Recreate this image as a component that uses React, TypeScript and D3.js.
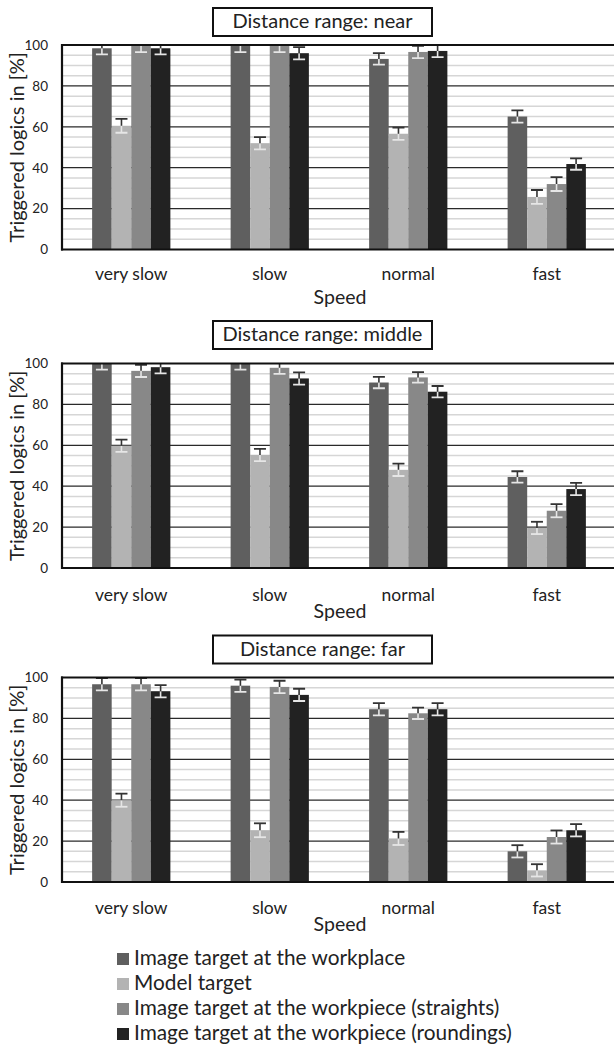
import React from "react";
import * as d3 from "d3";

// chart data
const speeds = ["very slow", "slow", "normal", "fast"];
const seriesNames = [
  "Image target at the workplace",
  "Model target",
  "Image target at the workpiece (straights)",
  "Image target at the workpiece (roundings)",
];
const seriesColors = ["#5f5f5f", "#b3b3b3", "#888888", "#222222"];
const rangeTitles = ["Distance range: near", "Distance range: middle", "Distance range: far"];
const yTicks = [0, 20, 40, 60, 80, 100];

const nearWorkplace = [98.4, 99.5, 93.2, 65];
const nearModel = [60.5, 52, 56.6, 25.7];
const nearStraights = [99.5, 99.5, 96.6, 32];
const nearRoundings = [98.4, 96, 97.1, 41.8];
const nearErrors = [
  [3, 3, 2.8, 3],
  [3.4, 3, 3, 3.4],
  [3, 3, 3, 3.4],
  [3, 3, 3, 2.8],
];

const middleWorkplace = [100, 100, 90.7, 44.5];
const middleModel = [59.8, 55.3, 48, 19.6];
const middleStraights = [96.4, 97.9, 93.2, 28];
const middleRoundings = [98.2, 92.7, 86.2, 38.6];
const middleErrors = [
  [3, 3, 2.8, 2.8],
  [3, 3, 3, 3],
  [3, 3, 2.6, 3.2],
  [3, 3, 2.8, 3],
];

const farWorkplace = [96.7, 96, 84.5, 15];
const farModel = [40, 25.3, 21.3, 5.7];
const farStraights = [96.7, 95.4, 82.5, 22];
const farRoundings = [93.3, 91.5, 84.5, 25.3];
const farErrors = [
  [3, 3, 3, 3],
  [3.2, 3.4, 3.2, 3],
  [3, 3, 2.8, 3.2],
  [3, 3, 3, 3],
];

const panelValues = [
  [nearWorkplace, nearModel, nearStraights, nearRoundings],
  [middleWorkplace, middleModel, middleStraights, middleRoundings],
  [farWorkplace, farModel, farStraights, farRoundings],
];
const panelErrors = [nearErrors, middleErrors, farErrors];

// layout
const W = 614;
const H = 1048;
const plotLeft = 62;
const plotRight = 616;
const plotHeight = 204.5;
const layouts = [
  { titleTop: 8, plotTop: 45, labelBase: 280, speedBase: 303.5 },
  { titleTop: 321, plotTop: 363.5, labelBase: 601, speedBase: 617.5 },
  { titleTop: 635.5, plotTop: 677.5, labelBase: 914, speedBase: 930.5 },
];
const font = "Lato, 'Open Sans', sans-serif";
const ink = "#222";

const x0 = d3
  .scaleBand()
  .domain(speeds)
  .range([plotLeft, plotRight])
  .paddingInner(0.435)
  .paddingOuter(0.2175);
const x1 = d3
  .scaleBand()
  .domain(seriesNames)
  .range([0, x0.bandwidth()]);

function Panel({ idx }: { idx: number }) {
  const lay = layouts[idx];
  const y = d3
    .scaleLinear()
    .domain([0, 100])
    .range([lay.plotTop + plotHeight, lay.plotTop]);
  const minor = d3.range(5, 100, 5).filter((v) => v % 20 !== 0);
  const clipId = "clip" + idx;
  const capW = 12;

  return (
    <g>
      <defs>
        <clipPath id={clipId}>
          <rect x={plotLeft} y={lay.plotTop} width={plotRight - plotLeft} height={plotHeight} />
        </clipPath>
      </defs>

      {/* title box */}
      <rect x={213} y={lay.titleTop} width={219} height={28} fill="white" stroke="#111" strokeWidth={2} />
      <text x={322.5} y={lay.titleTop + 20.3} textAnchor="middle" fontFamily={font} fontSize={20} fill={ink}>
        {rangeTitles[idx]}
      </text>

      {/* grid */}
      {minor.map((v) => (
        <line key={"m" + v} x1={plotLeft} x2={W} y1={y(v)} y2={y(v)} stroke="#d6d6d6" strokeWidth={1.5} />
      ))}
      {yTicks.slice(1, -1).map((v) => (
        <line key={"M" + v} x1={plotLeft} x2={W} y1={y(v)} y2={y(v)} stroke="#2a2a2a" strokeWidth={1.2} />
      ))}

      {/* bars with error bars, clipped to the plot */}
      <g clipPath={`url(#${clipId})`}>
        {speeds.map((s, i) => (
          <g key={s} transform={`translate(${x0(s)},0)`}>
            {seriesNames.map((name, j) => {
              const v = panelValues[idx][j][i];
              const e = panelErrors[idx][j][i];
              const bx = x1(name)!;
              const cx = bx + x1.bandwidth() / 2;
              return (
                <g key={name}>
                  <rect x={bx} y={y(v)} width={x1.bandwidth()} height={y(0) - y(v)} fill={seriesColors[j]} />
                  <line x1={cx} x2={cx} y1={y(v)} y2={y(v - e)} stroke="#e6e6e6" strokeWidth={1.6} />
                  <line x1={cx - capW / 2} x2={cx + capW / 2} y1={y(v - e)} y2={y(v - e)} stroke="#e6e6e6" strokeWidth={1.8} />
                  <line x1={cx} x2={cx} y1={y(v)} y2={y(v + e)} stroke="#333" strokeWidth={1.6} />
                  <line x1={cx - capW / 2} x2={cx + capW / 2} y1={y(v + e)} y2={y(v + e)} stroke="#333" strokeWidth={1.8} />
                </g>
              );
            })}
          </g>
        ))}
      </g>

      {/* frame */}
      <line x1={plotLeft - 1} x2={W} y1={y(100)} y2={y(100)} stroke="#111" strokeWidth={2.2} />
      <line x1={plotLeft - 1} x2={W} y1={y(0)} y2={y(0)} stroke="#111" strokeWidth={2.2} />
      <line x1={plotLeft} x2={plotLeft} y1={y(100) - 1} y2={y(0) + 1} stroke="#111" strokeWidth={2.2} />

      {/* y axis */}
      {yTicks.map((v) => (
        <text key={"t" + v} x={48} y={y(v)} dy="0.36em" textAnchor="end" fontFamily={font} fontSize={13.5} fill={ink}>
          {v}
        </text>
      ))}
      <text
        transform={`translate(17.5,${lay.plotTop + plotHeight / 2}) rotate(-90)`}
        dy="0.33em"
        textAnchor="middle"
        fontFamily={font}
        fontSize={20}
        fill={ink}
      >
        Triggered logics in [%]
      </text>

      {/* x axis */}
      {speeds.map((s) => (
        <text key={s} x={x0(s)! + x0.bandwidth() / 2} y={lay.labelBase} textAnchor="middle" fontFamily={font} fontSize={17.5} fill={ink}>
          {s}
        </text>
      ))}
      <text x={340} y={lay.speedBase} textAnchor="middle" fontFamily={font} fontSize={19.5} fill={ink}>
        Speed
      </text>
    </g>
  );
}

export default function App() {
  const legendBase = 965;
  const legendStep = 25;
  return (
    <svg width={W} height={H} style={{ position: "absolute", left: 0, top: 0, background: "white" }}>
      <rect width={W} height={H} fill="white" />
      {layouts.map((_, i) => (
        <Panel key={i} idx={i} />
      ))}
      {seriesNames.map((name, j) => (
        <g key={name} transform={`translate(0,${legendBase + j * legendStep})`}>
          <rect x={117} y={-12} width={12} height={12} fill={seriesColors[j]} />
          <text x={134} y={0} fontFamily={font} fontSize={20.8} fill={ink}>
            {name}
          </text>
        </g>
      ))}
    </svg>
  );
}
